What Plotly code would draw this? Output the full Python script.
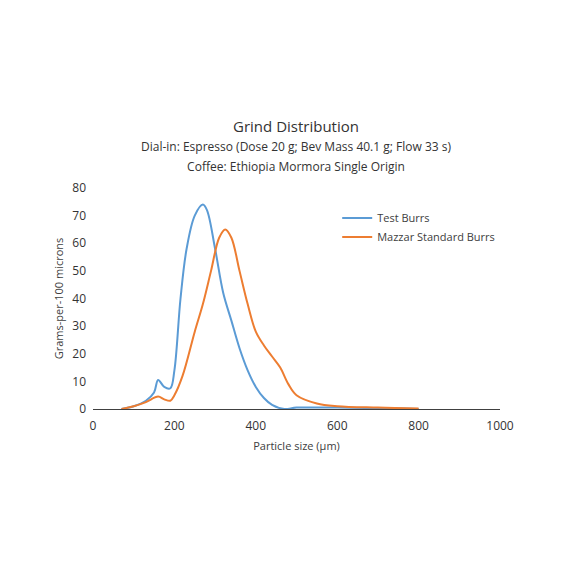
import plotly.graph_objects as go

test_x = [70,100,130,150,160,175,190,200,215,230,250,270,280,300,320,340,360,380,400,420,440,470,500,600,800]
test_y = [0,1,3,6,10.5,8,7.5,14,40,58,70,74,72,58,42,32,22,14,8,4,1.5,0,0.5,0.5,0]
maz_x = [70,100,130,160,175,190,200,220,250,270,290,310,325,340,360,380,400,420,440,460,480,500,550,600,700,800]
maz_y = [0,1,2.5,4.5,3.5,3,5,12,28,38,50,62,65,62,50,38,28,23,19,15,9,5,2,1,0.5,0.2]

fig = go.Figure()
fig.add_trace(go.Scatter(x=test_x, y=test_y, mode="lines", name="Test Burrs",
                         line=dict(color="#5B9BD5", width=2, shape="spline")))
fig.add_trace(go.Scatter(x=maz_x, y=maz_y, mode="lines", name="Mazzar Standard Burrs",
                         line=dict(color="#ED7D31", width=2, shape="spline")))
fig.update_layout(
    width=576, height=576, paper_bgcolor="white", plot_bgcolor="white",
    font=dict(family="Open Sans", color="#404040", size=11),
    title=dict(text="Grind Distribution<br><span style='font-size:12px'>Dial-in: Espresso (Dose 20 g; Bev Mass 40.1 g; Flow 33 s)<br>Coffee: Ethiopia Mormora Single Origin</span>",
               x=0.5, xanchor="center", y=0.785, yanchor="top", font=dict(size=15, color="#333")),
    margin=dict(l=85, r=84, t=180, b=175),
    legend=dict(x=0.6, y=0.93, bgcolor="rgba(0,0,0,0)", font=dict(size=11)),
    xaxis=dict(range=[0,1000], dtick=200, showgrid=False, showline=True, linecolor="#404040",
               ticks="", ticklabelstandoff=6, tickfont=dict(size=12, color="#333"),
               title=dict(text="Particle size (μm)", font=dict(size=11), standoff=8), zeroline=False),
    yaxis=dict(range=[0,80], dtick=10, showgrid=False, showline=False, ticks="",
               ticklabelstandoff=6, tickfont=dict(size=12, color="#333"),
               title=dict(text="Grams-per-100 microns", font=dict(size=11), standoff=6), zeroline=False),
)
fig.write_html("out.html")
